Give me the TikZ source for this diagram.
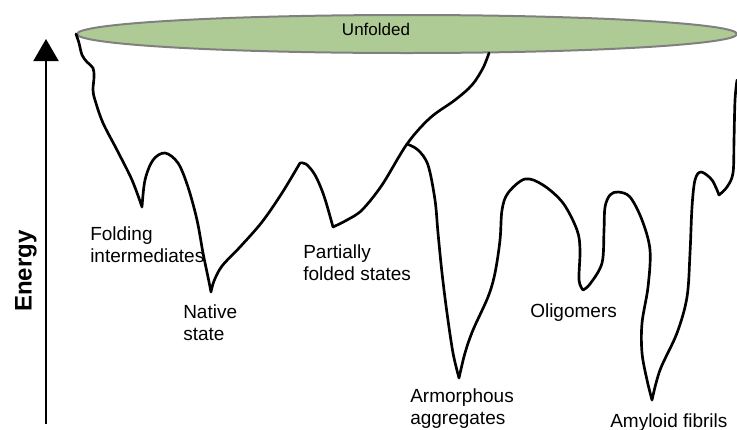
\documentclass[tikz,border=0pt]{standalone}
\usepackage{fontspec}
\setmainfont{Liberation Sans}
\usetikzlibrary{shapes.geometric,arrows.meta}
\definecolor{unfgreen}{RGB}{175,203,149}
\definecolor{unfgray}{RGB}{128,128,128}
\tikzset{
  land/.style={line width=2pt, line cap=round, line join=round},
  lab/.style={anchor=base west, inner sep=0pt, align=left,
    font=\fontsize{14.25pt}{16.5pt}\selectfont},
  sm/.style={smooth, tension=0.55},
}
\begin{document}
\begin{tikzpicture}[x=0.75pt,y=-0.75pt]
\useasboundingbox (0,0) rectangle (737,429);
\clip (0,0) rectangle (737,429);
% unfolded ensemble
\node[ellipse, draw=unfgray, line width=1.5pt, fill=unfgreen,
      minimum width=495pt, minimum height=28.5pt, inner sep=0pt] (ue) at (407,34) {};
\node[font=\fontsize{12.75pt}{14pt}\selectfont, anchor=base, inner sep=0pt] (unf) at (376,35) {Unfolded};
% energy axis
\coordinate (ebot) at (46,424);
\coordinate (etop) at (46,39);
\draw[line width=1.5pt, -{Triangle[length=16.5pt,width=18.75pt]}] (ebot) -- (etop);
\node[rotate=90, font=\bfseries\fontsize{18pt}{20pt}\selectfont, inner sep=0pt] (energy) at (26,271) {Energy};
% landscape
\coordinate (br) at (407,144);
\draw[land] plot[sm] coordinates {(ue.west) (79,43) (82,55) (87,62) (93,68) (94,77) (93,90) (95,100) (103,123) (117,150) (132,180) (142,207)}
  plot[sm] coordinates {(142,207) (145,180) (153,160) (165,153) (178,163) (188,187) (197,220) (203,253) (208,277) (211,292)}
  plot[sm] coordinates {(211,292) (214,281) (222,266) (240,247) (262,222) (282,193) (300,163)}
  plot[sm] coordinates {(300,163) (306,164) (315,175) (324,196) (333,227)}
  plot[sm] coordinates {(333,227) (347,220) (362,210) (382,185) (br) (430,118) (455,100) (472,85) (483,68) (489,53)};
\draw[land] plot[sm] coordinates {(br) (418,150) (428,165) (435,200) (438,233) (442,273) (447,313) (453,353) (459,378)}
  plot[sm] coordinates {(459,378) (465,353) (473,330) (488,297) (495,273) (500,240) (502,210) (508,193) (525,179) (543,185) (563,203) (577,230) (580,250) (579,280) (583,290)}
  plot[sm] coordinates {(583,290) (590,284) (602,263) (604,230) (605,207) (610,195) (618,192) (630,197) (642,220) (650,250) (648,287) (642,323) (642,353) (647,380) (652,400)}
  plot[sm] coordinates {(652,400) (660,370) (677,333) (687,297) (690,253) (692,207) (695,180) (701,172) (712,180) (719,195)}
  plot[sm] coordinates {(719,195) (727,187) (733,173) (734,140) (735,100) (737,80)};
% labels (base = last line)
\node[lab] (fi) at (90,262) {Folding\\intermediates};
\node[lab] (ns) at (183,340) {Native\\state};
\node[lab] (pf) at (303,280) {Partially\\folded states};
\node[lab] (aa) at (410,424) {Armorphous\\aggregates};
\node[lab] (ol) at (530,317) {Oligomers};
\node[lab] (af) at (610,427) {Amyloid fibrils};
\end{tikzpicture}
\end{document}
